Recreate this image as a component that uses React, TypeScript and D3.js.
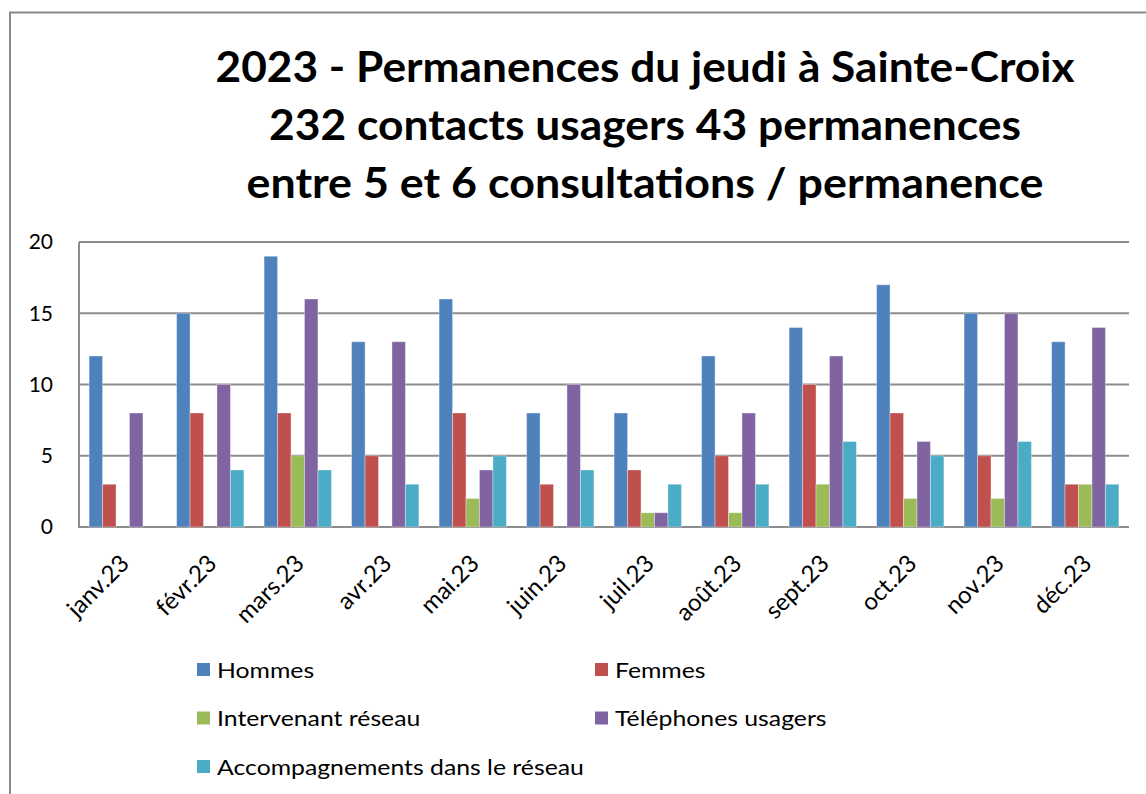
import React from "react";
import * as d3 from "d3";

const months = ["janv.23", "févr.23", "mars.23", "avr.23", "mai.23", "juin.23", "juil.23", "août.23", "sept.23", "oct.23", "nov.23", "déc.23"];
const hommes = [12, 15, 19, 13, 16, 8, 8, 12, 14, 17, 15, 13];
const femmes = [3, 8, 8, 5, 8, 3, 4, 5, 10, 8, 5, 3];
const intervenant = [0, 0, 5, 0, 2, 0, 1, 1, 3, 2, 2, 3];
const telephones = [8, 10, 16, 13, 4, 10, 1, 8, 12, 6, 15, 14];
const accompagnements = [0, 4, 4, 3, 5, 4, 3, 3, 6, 5, 6, 3];
const yTicks = [0, 5, 10, 15, 20];
const titleLines = [
  "2023 - Permanences du jeudi à Sainte-Croix",
  "232 contacts usagers 43 permanences",
  "entre 5 et 6 consultations / permanence",
];

const series = [
  { name: "Hommes", values: hommes, color: "#4F81BD" },
  { name: "Femmes", values: femmes, color: "#C0504D" },
  { name: "Intervenant réseau", values: intervenant, color: "#9BBB59" },
  { name: "Téléphones usagers", values: telephones, color: "#8064A2" },
  { name: "Accompagnements dans le réseau", values: accompagnements, color: "#4BACC6" },
];

const W = 1146, H = 794;
const plot = { left: 79, right: 1129, top: 242, bottom: 527 };
const FONT = "Lato, 'Open Sans', sans-serif";

export default function App() {
  const x = d3.scaleBand<string>().domain(months).range([plot.left, plot.right]).paddingInner(1.5 / 6.5).paddingOuter(0.75 / 6.5);
  const x1 = d3.scaleBand<string>().domain(series.map((s) => s.name)).range([0, x.bandwidth()]);
  const y = d3.scaleLinear().domain([0, 20]).range([plot.bottom, plot.top]);
  const titleWidths = [859, 752, 797];
  const titleBase = [82, 140, 198];

  return (
    <div style={{ position: "absolute", left: 0, top: 0 }}>
      <svg width={W} height={H} style={{ display: "block", background: "#fff" }}>
        <rect x={10} y={12.5} width={1160} height={800} fill="#fff" stroke="#8a8a8a" strokeWidth={2} />
        {titleLines.map((t, i) => (
          <text key={i} x={645} y={titleBase[i]} textAnchor="middle" fontFamily={FONT} fontWeight={700} fontSize={42}
            textLength={titleWidths[i]} lengthAdjust="spacingAndGlyphs" fill="#000">{t}</text>
        ))}
        {yTicks.map((t) => (
          <g key={t}>
            <line x1={plot.left} x2={plot.right} y1={y(t)} y2={y(t)} stroke="#8c8c8c" strokeWidth={2} />
            <text x={53} y={y(t)} dy="0.35em" textAnchor="end" fontFamily={FONT} fontSize={21} fill="#000">{t}</text>
          </g>
        ))}
        <line x1={plot.left} x2={plot.left} y1={plot.top} y2={plot.bottom + 1} stroke="#8c8c8c" strokeWidth={2} />
        {series.map((s) => (
          <g key={s.name}>
            {s.values.map((v, i) => v > 0 && (
              <rect key={i} x={(x(months[i]) as number) + (x1(s.name) as number)} y={y(v)} width={x1.bandwidth()}
                height={y(0) - y(v)} fill={s.color} stroke="#ffffff" strokeOpacity={0.35} strokeWidth={1} />
            ))}
          </g>
        ))}
        {months.map((m) => {
          const cx = (x(m) as number) + x.bandwidth() / 2;
          return (
            <text key={m} transform={`translate(${cx - 4},${plot.bottom + 26}) rotate(-45)`} textAnchor="end"
              dy="0.7em" fontFamily={FONT} fontSize={24} fill="#000">{m}</text>
          );
        })}
        {series.map((s, i) => {
          const col = i % 2, row = Math.floor(i / 2);
          const lx = col === 0 ? 197 : 595;
          const ly = 670 + row * 48.5;
          return (
            <g key={s.name}>
              <rect x={lx} y={ly - 7} width={13} height={13} fill={s.color} />
              <text transform={`translate(${lx + 20},${ly}) scale(1.18,1)`} dy="0.36em" fontFamily={FONT} fontSize={21} fill="#000">{s.name}</text>
            </g>
          );
        })}
      </svg>
    </div>
  );
}
